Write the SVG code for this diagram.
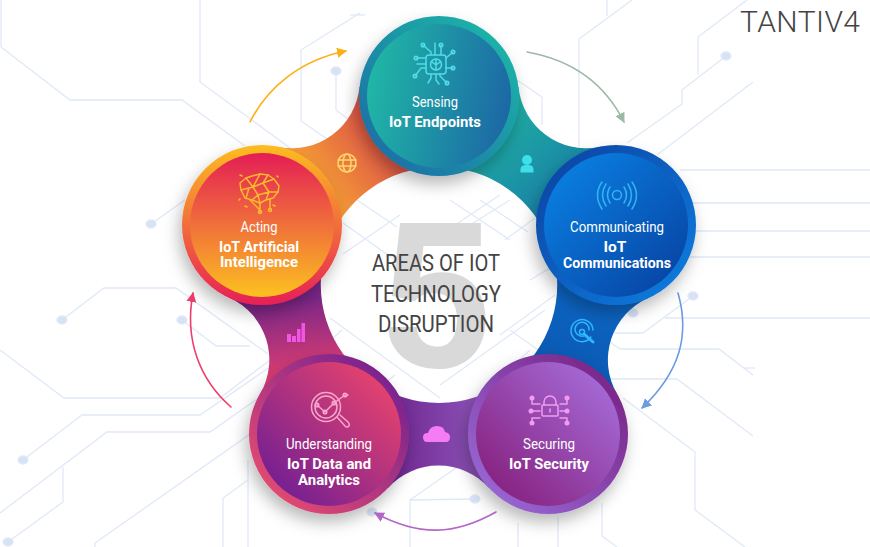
<svg xmlns="http://www.w3.org/2000/svg" width="870" height="547" viewBox="0 0 870 547">
<defs>
<style>
.bg{fill:none;stroke:#E0E9F7;stroke-width:1.3}
.dot{fill:#D6E3F6}
.t{font-family:Roboto,"Liberation Sans",sans-serif;fill:#fff;text-anchor:middle}
.l{font-size:15px;font-weight:400}
.b{font-size:15.5px;font-weight:700}
.h{font-family:Roboto,"Liberation Sans",sans-serif;font-size:23px;fill:#444;text-anchor:middle;font-weight:400}
.arc{fill:none;stroke-width:1.6;stroke-linecap:round}
.ic{fill:none;stroke-width:1.5;stroke-linecap:round;stroke-linejoin:round}
</style>
<filter id="sh" x="-30%" y="-30%" width="160%" height="170%"><feDropShadow dx="-3" dy="8" stdDeviation="8" flood-color="#000" flood-opacity="0.28"/></filter>
<linearGradient id="o1" x1="0" y1="1" x2="1" y2="0"><stop offset="0" stop-color="#1A66A6"/><stop offset="1" stop-color="#20BDA8"/></linearGradient>
<linearGradient id="i1" x1="0" y1="0.4" x2="1" y2="0.6"><stop offset="0" stop-color="#20B7A6"/><stop offset="1" stop-color="#1C67A5"/></linearGradient>
<linearGradient id="o2" x1="0" y1="0" x2="1" y2="1"><stop offset="0" stop-color="#08409F"/><stop offset="1" stop-color="#0A80E2"/></linearGradient>
<linearGradient id="i2" x1="0" y1="0" x2="1" y2="1"><stop offset="0" stop-color="#0A86E8"/><stop offset="1" stop-color="#073E9E"/></linearGradient>
<linearGradient id="o3" x1="1" y1="0" x2="0" y2="1"><stop offset="0" stop-color="#751C7C"/><stop offset="1" stop-color="#9C70DF"/></linearGradient>
<linearGradient id="i3" x1="1" y1="0" x2="0" y2="1"><stop offset="0" stop-color="#A975E3"/><stop offset="1" stop-color="#821773"/></linearGradient>
<linearGradient id="o4" x1="1" y1="0" x2="0" y2="1"><stop offset="0" stop-color="#661C94"/><stop offset="1" stop-color="#F4506C"/></linearGradient>
<linearGradient id="i4" x1="1" y1="0" x2="0" y2="1"><stop offset="0" stop-color="#F84868"/><stop offset="1" stop-color="#611A98"/></linearGradient>
<linearGradient id="o5" x1="0.5" y1="0" x2="0.5" y2="1"><stop offset="0" stop-color="#FCBD20"/><stop offset="1" stop-color="#E71F56"/></linearGradient>
<linearGradient id="i5" x1="0.5" y1="0" x2="0.5" y2="1"><stop offset="0" stop-color="#E41E55"/><stop offset="1" stop-color="#FCC120"/></linearGradient>
<linearGradient id="b1" gradientUnits="userSpaceOnUse" x1="320" y1="200" x2="400" y2="140"><stop offset="0" stop-color="#F7A233"/><stop offset="1" stop-color="#D94A4A"/></linearGradient>
<linearGradient id="b2" gradientUnits="userSpaceOnUse" x1="490" y1="120" x2="570" y2="210"><stop offset="0" stop-color="#1EAEA2"/><stop offset="1" stop-color="#187CA8"/></linearGradient>
<linearGradient id="b3" gradientUnits="userSpaceOnUse" x1="600" y1="290" x2="560" y2="390"><stop offset="0" stop-color="#0C66C4"/><stop offset="1" stop-color="#0A56AF"/></linearGradient>
<linearGradient id="b4" gradientUnits="userSpaceOnUse" x1="390" y1="434" x2="490" y2="434"><stop offset="0" stop-color="#6E2690"/><stop offset="1" stop-color="#9058BC"/></linearGradient>
<linearGradient id="b5" gradientUnits="userSpaceOnUse" x1="290" y1="300" x2="300" y2="370"><stop offset="0" stop-color="#7A2688"/><stop offset="1" stop-color="#D63C72"/></linearGradient>
<marker id="mY" markerUnits="userSpaceOnUse" markerWidth="12" markerHeight="12" refX="9" refY="5" orient="auto"><path d="M0,0L10,5L0,10Z" fill="#FBB017"/></marker>
<marker id="mG" markerUnits="userSpaceOnUse" markerWidth="12" markerHeight="12" refX="9" refY="5" orient="auto"><path d="M0,0L10,5L0,10Z" fill="#9DB8A6"/></marker>
<marker id="mB" markerUnits="userSpaceOnUse" markerWidth="12" markerHeight="12" refX="9" refY="5" orient="auto"><path d="M0,0L10,5L0,10Z" fill="#6B9BE0"/></marker>
<marker id="mV" markerUnits="userSpaceOnUse" markerWidth="12" markerHeight="12" refX="9" refY="5" orient="auto"><path d="M0,0L10,5L0,10Z" fill="#B668C8"/></marker>
<marker id="mP" markerUnits="userSpaceOnUse" markerWidth="12" markerHeight="12" refX="9" refY="5" orient="auto"><path d="M0,0L10,5L0,10Z" fill="#EE3C6C"/></marker>
</defs>
<rect width="870" height="547" fill="#fff"/>
<g id="background" class="bg">
<path class="bg" d="M1,0V47L70,100H182L245,146"/>
<path class="bg" d="M200,0V82L290,148"/>
<path class="bg" d="M360,13L301,50V121L330,141"/>
<path class="bg" d="M350,15H365"/>
<path class="bg" d="M336,71V110L352,122"/>
<path class="bg" d="M151,224L185,200"/>
<path class="bg" d="M62,320L104,288H176L268,354"/>
<path class="bg" d="M182,320L216,346H250"/>
<path class="bg" d="M0,350L64,398H220L270,360"/>
<path class="bg" d="M23,460L82,415H200L270,367"/>
<path class="bg" d="M0,513L107,432H210L270,390"/>
<path class="bg" d="M63,467V502L8,542"/>
<path class="bg" d="M95,547V543L270,420"/>
<path class="bg" d="M248,460V547"/>
<path class="bg" d="M223,547V498L248,480"/>
<path class="bg" d="M632,0L579,39V147"/>
<path class="bg" d="M607,0V16"/>
<path class="bg" d="M747,0L698,37V75"/>
<path class="bg" d="M726,56L682,90V104L627,143"/>
<path class="bg" d="M753,82L657,155"/>
<path class="bg" d="M680,170H870M690,203H870M695,231H870M690,257H870"/>
<path class="bg" d="M517,80L542,97V125"/>
<path class="bg" d="M693,296L643,333H610"/>
<path class="bg" d="M665,318H870"/>
<path class="bg" d="M610,342L620,349H719L753,375"/>
<path class="bg" d="M745,368H755"/>
<path class="bg" d="M610,379H677L753,436"/>
<path class="bg" d="M623,398L695,452V510L745,547"/>
<path class="bg" d="M602,503V536L617,547"/>
<path class="bg" d="M558,517V547M518,523V547"/>
<path class="bg" d="M475,499L410,500V547"/>
<path class="bg" d="M410,500L470,458"/>
<path class="bg" d="M357,200L397,227M343,223L395,260M450,200L510,240M480,200L528,232"/>
<path class="bg" d="M343,254L400,215M470,225L510,200M505,240L535,218M500,195L440,235"/>
<path class="bg" d="M330,318L440,398M345,355L375,378M480,395L530,350M440,385L545,310M510,330L555,362"/>
<path class="bg" d="M342,330L325,345M370,395L395,375"/>
<path class="bg" d="M555,295L500,335M560,262L530,280"/>
<ellipse class="dot" cx="336" cy="71" rx="5" ry="4"/>
<ellipse class="dot" cx="151" cy="224" rx="5" ry="4"/>
<ellipse class="dot" cx="62" cy="320" rx="5" ry="4"/>
<ellipse class="dot" cx="182" cy="320" rx="5" ry="4"/>
<ellipse class="dot" cx="23" cy="460" rx="5" ry="4"/>
<ellipse class="dot" cx="8" cy="542" rx="5" ry="4"/>
<ellipse class="dot" cx="726" cy="56" rx="5" ry="4"/>
<ellipse class="dot" cx="693" cy="296" rx="5" ry="4"/>
<ellipse class="dot" cx="633" cy="313" rx="5" ry="4"/>
<ellipse class="dot" cx="372" cy="512" rx="5" ry="4"/>
<ellipse class="dot" cx="475" cy="499" rx="5" ry="4"/>
</g>
<text x="436" y="367" font-family="Roboto,'Liberation Sans',sans-serif" font-size="202" font-weight="700" fill="#D9D9D9" text-anchor="middle">5</text>
<g id="title">
<text class="h" x="436" y="271" textLength="128" lengthAdjust="spacingAndGlyphs">AREAS OF IOT</text>
<text class="h" x="436" y="302" textLength="130" lengthAdjust="spacingAndGlyphs">TECHNOLOGY</text>
<text class="h" x="436" y="332" textLength="116" lengthAdjust="spacingAndGlyphs">DISRUPTION</text>
</g>
<g id="bridges">
<path fill="url(#b1)" d="M439,96L359.500,87A68,68 0 0 1 279,147L262,225L327,247A118,118 0 0 1 439,167Z"/>
<path fill="url(#b2)" d="M439,96L518.500,87A68,68 0 0 0 599,147L616,225L551,247A118,118 0 0 0 439,167Z"/>
<path fill="url(#b3)" d="M616,225L648,298A68,68 0 0 0 617,394L548,434L509,380A118,118 0 0 0 551,247Z"/>
<path fill="url(#b4)" d="M548,434L489,488A68,68 0 0 0 388,488L329,434L369,380A118,118 0 0 0 509,380Z"/>
<path fill="url(#b5)" d="M329,434L260,394A68,68 0 0 0 230,298L262,225L327,247A118,118 0 0 0 369,380Z"/>
<g id="bridge-icons">
<g class="ic" stroke="#FFD66E"><circle cx="347" cy="163" r="9"/><ellipse cx="347" cy="163" rx="4" ry="9"/><path d="M338,160H356M338,166H356"/></g>
<g fill="#3DDFEA"><circle cx="527" cy="160" r="5"/><path d="M520.500,172.500V169Q521,165 526,165H528Q533,165 533.500,169V172.500Z"/></g>
<g class="ic" stroke="#2DB8FF"><path d="M591,337A11,11 0 1 1 593,330"/><path d="M586,335A7,7 0 1 1 589,330"/><circle cx="582" cy="332" r="2.500"/><path d="M584,334L593,342" stroke-width="3"/></g>
<path fill="#F57CF5" d="M427,442Q423,442 423,437Q423,433 428,433Q430,426 437,426Q444,426 445,432Q450,433 450,437Q450,442 446,442Z"/>
<g fill="#F055E5"><rect x="287" y="334" width="4" height="8"/><rect x="292" y="336" width="4" height="6"/><rect x="297" y="329" width="3.500" height="13"/><rect x="301.500" y="323" width="3.500" height="19"/></g>
</g>
</g>
<g id="connectors">
<path class="arc" stroke="#FBB017" marker-end="url(#mY)" d="M250,122C267,88 300,60 346,51"/>
<path class="arc" stroke="#9DB8A6" marker-end="url(#mG)" d="M527,52C572,60 605,84 624,122"/>
<path class="arc" stroke="#6B9BE0" marker-end="url(#mB)" d="M678,293C690,335 680,372 642,408"/>
<path class="arc" stroke="#B668C8" marker-end="url(#mV)" d="M496,512C455,535 420,537 375,513"/>
<path class="arc" stroke="#EE3C6C" marker-end="url(#mP)" d="M231,407C200,380 184,340 193,293"/>
</g>
<g id="node-acting">
<circle cx="262" cy="225" r="80" fill="url(#o5)" filter="url(#sh)"/>
<circle cx="262" cy="225" r="72" fill="url(#i5)"/>
<g class="ic" stroke="#FBB92D">
<path d="M241,190L240,183L246,178L252,176L260,174L268,175L274,179L279,186L278,192L273,198L266,200L260,203L252,200L245,198Z"/>
<path d="M246,178L253,187L260,174M253,187L263,183L268,175M263,183L274,179M263,183L269,192L278,192M269,192L266,200M253,187L258,195L269,192M241,190L253,187M258,195L252,200M258,195L260,203M246,198L249,188"/>
<path d="M260,203V212M270,199V209M250,200L259,209M242,176L240,175M247,207L245,206M240,199L239,200M273,205L275,206M278,177L277,176"/>
<circle cx="260" cy="212" r="1.500"/><circle cx="270" cy="210" r="1.500"/>
</g>
<text class="t l" x="259" y="232" textLength="37" lengthAdjust="spacingAndGlyphs">Acting</text>
<text class="t b" x="259" y="252" textLength="80" lengthAdjust="spacingAndGlyphs">IoT Artificial</text>
<text class="t b" x="259" y="267" textLength="78" lengthAdjust="spacingAndGlyphs">Intelligence</text>
</g>
<g id="node-sensing">
<circle cx="439" cy="96" r="80" fill="url(#o1)" filter="url(#sh)"/>
<circle cx="439" cy="96" r="72" fill="url(#i1)"/>
<g class="ic" stroke="#50DCE8">
<rect x="426" y="55" width="20" height="19" rx="3"/>
<circle cx="436" cy="64.500" r="5.500"/><path d="M436,59V70M432,62L436,65L440,62"/>
<path d="M435,43V55M441,45V55M423,45L431,52V55M453,52L446,58M416,58H426M415,76L421,68H426M428,83L431,78V74M447,83L440,76V74M439,84L436,80V74M453,68H446M417,64H426"/>
<circle cx="441" cy="45" r="1.800"/><circle cx="423" cy="45" r="1.800"/><circle cx="453" cy="52" r="1.800"/><circle cx="416" cy="58" r="1.800"/><circle cx="415" cy="76" r="1.800"/><circle cx="447" cy="83" r="1.800"/><circle cx="453" cy="68" r="1.800"/>
</g>
<text class="t l" x="435" y="107" textLength="46" lengthAdjust="spacingAndGlyphs">Sensing</text>
<text class="t b" x="435" y="127" textLength="92" lengthAdjust="spacingAndGlyphs">IoT Endpoints</text>
</g>
<g id="node-communicating">
<circle cx="616" cy="225" r="80" fill="url(#o2)" filter="url(#sh)"/>
<circle cx="616" cy="225" r="72" fill="url(#i2)"/>
<g class="ic" stroke="#33B5F5">
<circle cx="617" cy="195" r="4.500"/>
<path d="M610,187Q605,195 610,203M606,184Q599,195 606,206M602,182Q593,195 602,209M624,187Q629,195 624,203M628,184Q635,195 628,206M632,182Q641,195 632,209"/>
</g>
<text class="t l" x="617" y="232" textLength="94" lengthAdjust="spacingAndGlyphs">Communicating</text>
<text class="t b" x="615" y="252">IoT</text>
<text class="t b" x="617" y="268" textLength="108" lengthAdjust="spacingAndGlyphs">Communications</text>
</g>
<g id="node-securing">
<circle cx="548" cy="434" r="80" fill="url(#o3)" filter="url(#sh)"/>
<circle cx="548" cy="434" r="72" fill="url(#i3)"/>
<g class="ic" stroke="#F49BF0">
<rect x="542" y="405" width="16" height="11" rx="1"/>
<path d="M544,405V402A6,6 0 0 1 556,402V405M550,409V412"/>
<path d="M532,398V404H540M531,411H540M532,423V418H540M567,398V404H560M567,411H560M567,423V418H560"/>
</g>
<g fill="#F49BF0"><circle cx="532" cy="398" r="2.500"/><circle cx="531" cy="411" r="2.500"/><circle cx="532" cy="423" r="2.500"/><circle cx="567" cy="398" r="2.500"/><circle cx="567" cy="411" r="2.500"/><circle cx="567" cy="423" r="2.500"/></g>
<text class="t l" x="549" y="449" textLength="52" lengthAdjust="spacingAndGlyphs">Securing</text>
<text class="t b" x="549" y="469" textLength="80" lengthAdjust="spacingAndGlyphs">IoT Security</text>
</g>
<g id="node-understanding">
<circle cx="329" cy="434" r="80" fill="url(#o4)" filter="url(#sh)"/>
<circle cx="329" cy="434" r="72" fill="url(#i4)"/>
<g class="ic" stroke="#F9A6CE">
<circle cx="326" cy="407" r="14.500"/><circle cx="326" cy="407" r="11"/>
<path d="M317,405L325,412L334,403L345,395H348"/>
<circle cx="317" cy="405" r="1.800"/><circle cx="325" cy="412" r="1.800"/><circle cx="334" cy="403" r="1.800"/><circle cx="345" cy="395" r="1.800"/>
<path d="M337,417L345,426Q347,428 349,426Q350,424 348,422L340,415"/>
</g>
<text class="t l" x="329" y="449" textLength="86" lengthAdjust="spacingAndGlyphs">Understanding</text>
<text class="t b" x="329" y="469" textLength="84" lengthAdjust="spacingAndGlyphs">IoT Data and</text>
<text class="t b" x="329" y="485" textLength="62" lengthAdjust="spacingAndGlyphs">Analytics</text>
</g>
<text id="logo" x="800" y="32" font-family="Roboto,'Liberation Sans',sans-serif" font-size="30" font-weight="300" fill="#444" text-anchor="middle" textLength="120" lengthAdjust="spacing">TANTIV4</text>
</svg>
